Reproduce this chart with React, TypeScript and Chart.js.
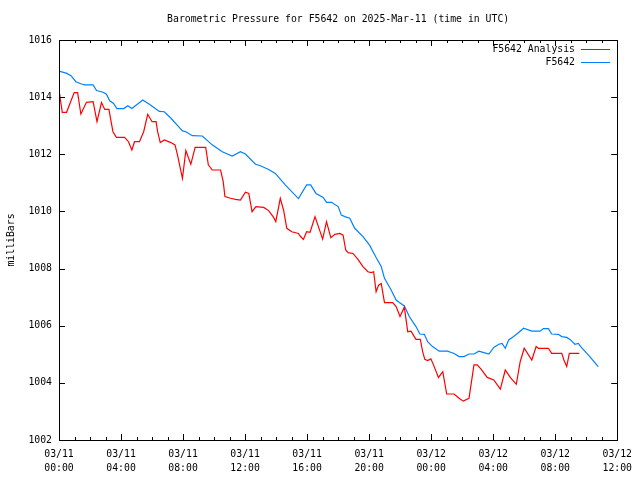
import React, { useEffect, useRef } from "react";
import { Chart, registerables } from "chart.js";

Chart.register(...registerables);

const TITLE = "Barometric Pressure for F5642 on 2025-Mar-11 (time in UTC)";
const Y_LABEL = "milliBars";
const SERIES_NAMES = ["F5642 Analysis", "F5642"];
const SERIES_COLORS = ["#ff0000", "rgb(0,128,255)"];

const X_TICK_HOURS = [0, 4, 8, 12, 16, 20, 24, 28, 32, 36];
const X_TICK_LABELS = [
  ["03/11", "00:00"], ["03/11", "04:00"], ["03/11", "08:00"], ["03/11", "12:00"],
  ["03/11", "16:00"], ["03/11", "20:00"], ["03/12", "00:00"], ["03/12", "04:00"],
  ["03/12", "08:00"], ["03/12", "12:00"],
];
const X_MINOR_STEP = 1;
const Y_TICKS = [1002, 1004, 1006, 1008, 1010, 1012, 1014, 1016];

// F5642 Analysis (red) — hours since 03/11 00:00 UTC, pressure in mb
const ANALYSIS_HOURS = [
  0, 0.06, 0.21, 0.49, 0.75, 0.98, 1.2, 1.41, 1.77, 2.2, 2.45, 2.74, 2.95, 3.22, 3.38, 3.48, 3.7,
  4.23, 4.48, 4.7, 4.87, 5.19, 5.46, 5.72, 6.0, 6.26, 6.36, 6.53, 6.79, 7.22, 7.48, 7.64, 7.96,
  8.18, 8.5, 8.78, 9.46, 9.63, 9.88, 10.42, 10.59, 10.7, 11.06, 11.38, 11.7, 12.02, 12.24, 12.45,
  12.7, 13.2, 13.52, 13.84, 13.98, 14.27, 14.48, 14.69, 15.01, 15.44, 15.55, 15.76, 15.97, 16.19,
  16.51, 17.0, 17.25, 17.53, 17.79, 18.11, 18.32, 18.49, 18.64, 18.96, 19.28, 19.6, 19.92, 20.13,
  20.29, 20.45, 20.61, 20.78, 20.99, 21.52, 21.74, 21.99, 22.27, 22.49, 22.7, 23.02, 23.3, 23.45,
  23.59, 23.77, 23.98, 24.15, 24.47, 24.75, 25.0, 25.48, 25.8, 26.07, 26.44, 26.76, 26.97, 27.23,
  27.61, 28.04, 28.46, 28.78, 29.1, 29.49, 29.74, 30.0, 30.49, 30.77, 30.92, 31.56, 31.77, 32.42,
  32.56, 32.74, 32.91, 33.55,
];
const ANALYSIS_VALUES = [
  1014.1, 1014.02, 1013.47, 1013.47, 1013.84, 1014.16, 1014.16, 1013.41, 1013.82, 1013.84, 1013.14,
  1013.81, 1013.57, 1013.57, 1013.08, 1012.79, 1012.59, 1012.59, 1012.44, 1012.15, 1012.44, 1012.44,
  1012.79, 1013.4, 1013.14, 1013.14, 1012.79, 1012.41, 1012.5, 1012.41, 1012.33, 1011.98, 1011.16,
  1012.13, 1011.65, 1012.24, 1012.24, 1011.63, 1011.45, 1011.45, 1011.04, 1010.52, 1010.46, 1010.42,
  1010.4, 1010.67, 1010.63, 1009.99, 1010.17, 1010.14, 1010.03, 1009.79, 1009.64, 1010.46, 1010.05,
  1009.41, 1009.29, 1009.23, 1009.14, 1009.02, 1009.29, 1009.27, 1009.82, 1009.03, 1009.64, 1009.08,
  1009.2, 1009.23, 1009.17, 1008.65, 1008.56, 1008.53, 1008.32, 1008.07, 1007.89, 1007.86, 1007.89,
  1007.19, 1007.42, 1007.48, 1006.81, 1006.81, 1006.67, 1006.32, 1006.65, 1005.79, 1005.81, 1005.52,
  1005.52, 1005.09, 1004.82, 1004.78, 1004.84, 1004.63, 1004.19, 1004.39, 1003.61, 1003.61, 1003.46,
  1003.36, 1003.46, 1004.63, 1004.63, 1004.47, 1004.19, 1004.1, 1003.78, 1004.45, 1004.19, 1003.95,
  1004.74, 1005.21, 1004.8, 1005.27, 1005.21, 1005.21, 1005.03, 1005.03, 1004.8, 1004.57, 1005.03,
  1005.03,
];

// F5642 station (blue)
const STATION_HOURS = [
  0, 0.51, 0.77, 1.09, 1.45, 1.67, 2.2, 2.42, 2.84, 3.06, 3.27, 3.52, 3.73, 4.18, 4.44, 4.7, 5.4,
  5.83, 6.47, 6.79, 7.22, 7.71, 7.96, 8.18, 8.6, 9.24, 9.88, 10.53, 11.17, 11.7, 12.02, 12.67,
  12.99, 13.52, 13.95, 14.59, 15.44, 15.97, 16.23, 16.57, 17.04, 17.25, 17.57, 18.0, 18.21, 18.43,
  18.75, 19.07, 19.6, 20.03, 20.45, 20.78, 20.99, 21.42, 21.74, 21.95, 22.27, 22.59, 23.02, 23.27,
  23.56, 23.77, 24.09, 24.52, 25.05, 25.48, 25.8, 26.12, 26.44, 26.76, 27.08, 27.4, 27.72, 28.04,
  28.36, 28.57, 28.78, 29.0, 29.32, 29.64, 29.96, 30.49, 31.02, 31.24, 31.56, 31.77, 32.2, 32.42,
  32.74, 32.95, 33.27, 33.49, 33.7, 34.23, 34.77,
];
const STATION_VALUES = [
  1014.91, 1014.83, 1014.75, 1014.54, 1014.46, 1014.43, 1014.43, 1014.23, 1014.17, 1014.1, 1013.87,
  1013.78, 1013.6, 1013.6, 1013.7, 1013.6, 1013.9, 1013.75, 1013.5, 1013.49, 1013.26, 1012.97,
  1012.82, 1012.79, 1012.65, 1012.64, 1012.33, 1012.09, 1011.94, 1012.09, 1012.01, 1011.65, 1011.6,
  1011.47, 1011.33, 1010.93, 1010.45, 1010.93, 1010.93, 1010.63, 1010.49, 1010.32, 1010.32, 1010.17,
  1009.87, 1009.82, 1009.76, 1009.41, 1009.12, 1008.82, 1008.39, 1008.07, 1007.66, 1007.25, 1006.9,
  1006.81, 1006.69, 1006.32, 1005.97, 1005.71, 1005.7, 1005.44, 1005.27, 1005.11, 1005.11, 1005.03,
  1004.92, 1004.92, 1005.01, 1005.01, 1005.11, 1005.06, 1005.01, 1005.24, 1005.35, 1005.38, 1005.21,
  1005.5, 1005.62, 1005.76, 1005.91, 1005.81, 1005.81, 1005.9, 1005.9, 1005.71, 1005.7, 1005.62,
  1005.59, 1005.52, 1005.35, 1005.38, 1005.23, 1004.92, 1004.57,
];

const FONT = '"DejaVu Sans Mono", "Liberation Mono", monospace';
const FONT_SIZE = 9.8;

const gnuplotDecor = {
  id: "gnuplotDecor",
  afterDraw(chart: any) {
    const ctx = chart.ctx as CanvasRenderingContext2D;
    const { left, right, top, bottom } = chart.chartArea;
    const xs = chart.scales.x;
    const ys = chart.scales.y;
    ctx.save();
    ctx.strokeStyle = "#000";
    ctx.lineWidth = 1;
    ctx.beginPath();
    for (let h = xs.min; h <= xs.max + 1e-9; h += X_MINOR_STEP) {
      const px = Math.round(xs.getPixelForValue(h)) + 0.5;
      const major = X_TICK_HOURS.includes(h);
      const len = major ? 6 : 3;
      ctx.moveTo(px, bottom);
      ctx.lineTo(px, bottom - len);
      ctx.moveTo(px, top);
      ctx.lineTo(px, top + len);
    }
    for (const v of Y_TICKS) {
      const py = Math.round(ys.getPixelForValue(v)) + 0.5;
      ctx.moveTo(left, py);
      ctx.lineTo(left + 6, py);
      ctx.moveTo(right, py);
      ctx.lineTo(right - 6, py);
    }
    ctx.stroke();
    ctx.strokeRect(Math.round(left) + 0.5, Math.round(top) + 0.5, Math.round(right - left), Math.round(bottom - top));

    ctx.fillStyle = "#000";
    ctx.font = `${FONT_SIZE}px ${FONT}`;
    ctx.textBaseline = "middle";
    ctx.textAlign = "center";
    ctx.fillText(TITLE, (left + right) / 2, 19);

    const legendRows = [49, 62];
    SERIES_NAMES.forEach((name, i) => {
      const y = legendRows[i];
      ctx.textAlign = "right";
      ctx.fillStyle = "#000";
      ctx.fillText(name, 575, y);
      ctx.strokeStyle = SERIES_COLORS[i];
      ctx.beginPath();
      ctx.moveTo(581, y + 0.5);
      ctx.lineTo(610, y + 0.5);
      ctx.stroke();
    });

    ctx.save();
    ctx.translate(11, (top + bottom) / 2);
    ctx.rotate(-Math.PI / 2);
    ctx.textAlign = "center";
    ctx.fillStyle = "#000";
    ctx.fillText(Y_LABEL, 0, 0);
    ctx.restore();
    ctx.restore();
  },
};

export default function App() {
  const ref = useRef<HTMLCanvasElement | null>(null);
  useEffect(() => {
    if (!ref.current) return;
    const chart = new Chart(ref.current, {
      type: "scatter",
      data: {
        datasets: [
          {
            label: SERIES_NAMES[0],
            data: ANALYSIS_HOURS.map((h, i) => ({ x: h, y: ANALYSIS_VALUES[i] })),
            borderColor: SERIES_COLORS[0],
            backgroundColor: SERIES_COLORS[0],
            borderWidth: 1.2,
            pointRadius: 0,
            showLine: true,
            tension: 0,
          },
          {
            label: SERIES_NAMES[1],
            data: STATION_HOURS.map((h, i) => ({ x: h, y: STATION_VALUES[i] })),
            borderColor: SERIES_COLORS[1],
            backgroundColor: SERIES_COLORS[1],
            borderWidth: 1.2,
            pointRadius: 0,
            showLine: true,
            tension: 0,
          },
        ],
      },
      options: {
        animation: false,
        responsive: false,
        devicePixelRatio: 1,
        layout: { padding: { top: 40, right: 19, left: 0, bottom: 0 } },
        plugins: {
          legend: { display: false },
          title: { display: false },
          tooltip: { enabled: false },
        },
        scales: {
          x: {
            type: "linear",
            min: 0,
            max: 36,
            grid: { display: false, drawTicks: false },
            border: { display: false },
            afterBuildTicks: (axis: any) => {
              axis.ticks = X_TICK_HOURS.map((v) => ({ value: v }));
            },
            afterFit: (axis: any) => {
              axis.height = 40;
            },
            ticks: {
              autoSkip: false,
              maxRotation: 0,
              minRotation: 0,
              padding: 8,
              color: "#000",
              font: { family: FONT, size: FONT_SIZE, lineHeight: 1.4 },
              callback: (v: any) => {
                const i = X_TICK_HOURS.indexOf(Number(v));
                return i >= 0 ? X_TICK_LABELS[i] : "";
              },
            },
          },
          y: {
            type: "linear",
            min: 1002,
            max: 1016,
            grid: { display: false, drawTicks: false },
            border: { display: false },
            afterBuildTicks: (axis: any) => {
              axis.ticks = Y_TICKS.map((v) => ({ value: v }));
            },
            afterFit: (axis: any) => {
              axis.width = 59;
            },
            ticks: {
              padding: 7,
              color: "#000",
              font: { family: FONT, size: FONT_SIZE },
              callback: (v: any) => String(v),
            },
          },
        },
      },
      plugins: [gnuplotDecor],
    });
    return () => chart.destroy();
  }, []);
  return (
    <div style={{ position: "absolute", left: 0, top: 0, width: 640, height: 480, background: "#fff" }}>
      <canvas ref={ref} width={640} height={480} style={{ width: 640, height: 480 }} />
    </div>
  );
}
